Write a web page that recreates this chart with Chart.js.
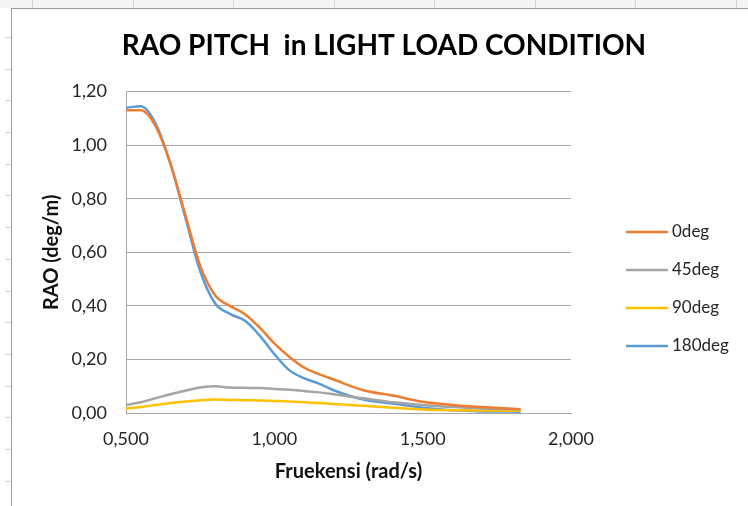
<!DOCTYPE html>
<html>
<head>
<meta charset="utf-8">
<script src="https://cdn.jsdelivr.net/npm/chart.js@4.4.1/dist/chart.umd.min.js"></script>
<style>
  html, body { margin: 0; padding: 0; background: #fff; overflow: hidden; }
  body { width: 748px; height: 506px; position: relative; }
  #topStrip { position: absolute; left: 0; top: 0; width: 748px; height: 8px; background: #f4f4f4; }
  .vtick { position: absolute; top: 0; width: 1px; height: 8px; background: #d4d4d4; }
  .htick { position: absolute; left: 5px; width: 6px; height: 1px; background: #d4d4d4; }
  #box { position: absolute; left: 11px; top: 8px; width: 737px; height: 498px; border-left: 1px solid #9a9a9a; border-top: 1px solid #9a9a9a; background: #fff; }
  #chart { position: absolute; left: 0; top: 0; }
</style>
</head>
<body>
<div id="topStrip"></div>
<div id="box"><canvas id="chart" width="736" height="497"></canvas></div>
<script>
const frequency = [0.50, 0.55, 0.60, 0.65, 0.70, 0.75, 0.80, 0.85, 0.90, 0.95, 1.00, 1.05, 1.10, 1.15, 1.20, 1.30, 1.40, 1.50, 1.60, 1.70, 1.83];
const rao0 =   [1.13, 1.13, 1.07, 0.93, 0.74, 0.55, 0.44, 0.40, 0.37, 0.32, 0.26, 0.21, 0.17, 0.145, 0.125, 0.085, 0.065, 0.042, 0.030, 0.022, 0.014];
const rao45 =  [0.030, 0.040, 0.055, 0.070, 0.083, 0.095, 0.100, 0.095, 0.094, 0.093, 0.090, 0.087, 0.082, 0.077, 0.070, 0.055, 0.040, 0.030, 0.022, 0.017, 0.013];
const rao90 =  [0.017, 0.022, 0.030, 0.037, 0.043, 0.048, 0.050, 0.049, 0.048, 0.047, 0.045, 0.043, 0.040, 0.037, 0.034, 0.027, 0.020, 0.013, 0.010, 0.009, 0.008];
const rao180 = [1.14, 1.145, 1.08, 0.93, 0.73, 0.53, 0.41, 0.37, 0.345, 0.29, 0.22, 0.16, 0.13, 0.11, 0.085, 0.050, 0.035, 0.020, 0.010, 0.006, 0.005];

const seriesNames = ['0deg', '45deg', '90deg', '180deg'];
const seriesColors = ['#ED7D31', '#A5A5A5', '#FFC000', '#5B9BD5'];
const seriesValues = [rao0, rao45, rao90, rao180];

// spreadsheet cell marks behind the chart
const strip = document.getElementById('topStrip');
for (let x = 32; x < 748; x += 100.5) {
  const d = document.createElement('div');
  d.className = 'vtick';
  d.style.left = Math.round(x) + 'px';
  strip.appendChild(d);
}
for (let y = 37; y < 506; y += 31.7) {
  const d = document.createElement('div');
  d.className = 'htick';
  d.style.top = Math.round(y) + 'px';
  document.body.appendChild(d);
}

const FONT = 'Lato, "Open Sans", sans-serif';

const legendPlugin = {
  id: 'sideLegend',
  afterDraw(chart) {
    const ctx = chart.ctx;
    ctx.save();
    ctx.font = '17px ' + FONT;
    ctx.textBaseline = 'middle';
    ctx.textAlign = 'left';
    chart.data.datasets.forEach((ds, i) => {
      const y = 223 + i * 38;
      ctx.strokeStyle = ds.borderColor;
      ctx.lineWidth = 2.5;
      ctx.beginPath();
      ctx.moveTo(614, y);
      ctx.lineTo(656, y);
      ctx.stroke();
      ctx.fillStyle = '#262626';
      ctx.fillText(ds.label, 660, y);
    });
    ctx.restore();
  }
};

new Chart(document.getElementById('chart').getContext('2d'), {
  type: 'scatter',
  data: {
    datasets: seriesNames.map((name, i) => ({
      label: name,
      data: frequency.map((f, j) => ({ x: f, y: seriesValues[i][j] })),
      showLine: true,
      borderColor: seriesColors[i],
      backgroundColor: seriesColors[i],
      borderWidth: 2.5,
      pointRadius: 0,
      cubicInterpolationMode: 'monotone'
    }))
  },
  options: {
    responsive: false,
    animation: false,
    layout: { padding: { left: 8, right: 0, top: 0, bottom: 0 } },
    plugins: {
      legend: { display: false },
      tooltip: { enabled: false },
      title: {
        display: true,
        text: 'RAO PITCH  in LIGHT LOAD CONDITION',
        color: '#000',
        font: { family: FONT, size: 28, weight: 'bold' },
        padding: { top: 20, bottom: 29 }
      }
    },
    scales: {
      x: {
        type: 'linear',
        min: 0.5,
        max: 2.0,
        afterFit: s => { s.height = 93; },
        ticks: {
          stepSize: 0.5,
          padding: 15,
          color: '#262626',
          font: { family: FONT, size: 18 },
          callback: v => v.toFixed(3).replace('.', ',')
        },
        grid: { display: false, drawTicks: false },
        border: { display: true, color: '#a6a6a6', width: 1 },
        title: {
          display: true,
          text: 'Fruekensi (rad/s)',
          color: '#111',
          font: { family: FONT, size: 20, weight: 'bold' },
          padding: { top: 0, bottom: 22 }
        }
      },
      y: {
        min: 0,
        max: 1.2,
        afterFit: s => { s.width = 106; },
        ticks: {
          stepSize: 0.2,
          padding: 19,
          color: '#262626',
          font: { family: FONT, size: 18 },
          callback: v => v.toFixed(2).replace('.', ',')
        },
        grid: { color: '#a6a6a6', lineWidth: 1, drawTicks: false },
        border: { display: true, color: '#a6a6a6', width: 1 },
        title: {
          display: true,
          text: 'RAO (deg/m)',
          color: '#111',
          font: { family: FONT, size: 20, weight: 'bold' },
          padding: { top: 20, bottom: 0 }
        }
      },
      // empty right-hand box that keeps room for the legend
      spacer: {
        position: 'right',
        min: 0,
        max: 1,
        afterFit: s => { s.width = 177; },
        ticks: { display: false },
        grid: { display: false, drawTicks: false },
        border: { display: false }
      }
    }
  },
  plugins: [legendPlugin]
});
</script>
</body>
</html>
